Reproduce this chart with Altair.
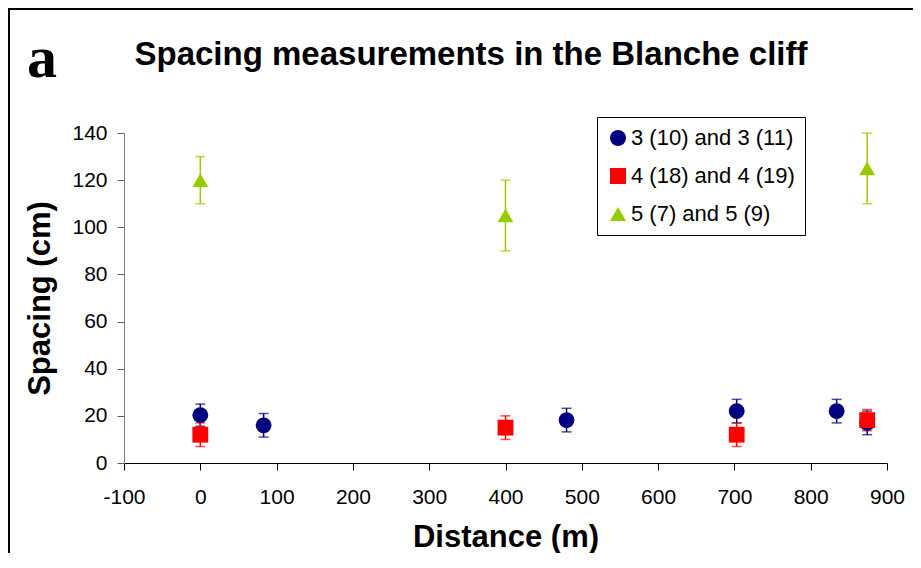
import altair as alt
import pandas as pd

# ---- data ----
series_names = ["3 (10) and 3 (11)", "4 (18) and 4 (19)", "5 (7) and 5 (9)"]
series_colors = ["#000080", "#FF0000", "#99CC00"]
series_shapes = ["circle", "square", "triangle-up"]

s1_x = [0, 83, 480, 703, 834, 874]
s1_y = [20.3, 16, 18.2, 22, 22, 17]
s1_err = [4.7, 5, 5, 5, 5, 5]

s2_x = [0, 400, 703, 874]
s2_y = [12, 15, 12, 18.2]
s2_err = [5, 5, 5, 4.5]

s3_x = [0, 400, 874]
s3_y = [120, 105, 125]
s3_err = [10, 15, 15]

title_text = "Spacing measurements in the Blanche cliff"
panel_letter = "a"

rows = []
for name, xs, ys, es in [
    (series_names[0], s1_x, s1_y, s1_err),
    (series_names[1], s2_x, s2_y, s2_err),
    (series_names[2], s3_x, s3_y, s3_err),
]:
    for x, y, e in zip(xs, ys, es):
        rows.append({"series": name, "distance": x, "spacing": y,
                     "lo": y - e, "hi": y + e})
df = pd.DataFrame(rows)

FONT = "Liberation Sans"

x_enc = alt.X("distance:Q", scale=alt.Scale(domain=[-100, 900], nice=False, zero=False),
              axis=alt.Axis(title="Distance (m)", values=list(range(-100, 901, 100)),
                            labelExpr="'' + datum.value",
                            grid=False, domainColor="black", tickColor="black",
                            tickSize=7, labelPadding=16, labelFontSize=21,
                            labelFont=FONT, labelColor="black",
                            titleFont=FONT, titleFontSize=31, titleFontWeight="bold",
                            titleColor="black", titleX=381.5, titleY=74,
                            titleBaseline="middle", titleAnchor="middle",
                            labelFlush=False, labelOverlap=False))
y_axis = alt.Axis(title="Spacing (cm)", values=list(range(0, 141, 20)),
                  grid=False, domainColor="#808080", tickColor="#606060",
                  tickSize=7, labelPadding=10, labelFontSize=21, labelFont=FONT,
                  labelColor="black", titleFont=FONT, titleFontSize=31,
                  titleFontWeight="bold", titleColor="black", titleX=-84,
                  titleY=165, titleBaseline="middle", titleAngle=-90,
                  titleAnchor="middle")
y_scale = alt.Scale(domain=[0, 140], nice=False, zero=False)

legend = alt.Legend(title=None, orient="none", legendX=473, legendY=-16,
                    strokeColor="black", fillColor="white", padding=10,
                    labelFont=FONT, labelFontSize=22, labelColor="black",
                    symbolSize=256, symbolStrokeWidth=0, symbolOpacity=1,
                    rowPadding=16, labelOffset=2, labelLimit=400)
color_enc = alt.Color("series:N", scale=alt.Scale(domain=series_names, range=series_colors),
                      legend=legend)
shape_enc = alt.Shape("series:N", scale=alt.Scale(domain=series_names, range=series_shapes),
                      legend=legend)

base = alt.Chart(df)

errbars = base.mark_errorbar(ticks=True, size=10, thickness=1.5).encode(
    x=x_enc,
    y=alt.Y("lo:Q", scale=y_scale, axis=y_axis),
    y2="hi:Q",
    color=color_enc,
)

points = base.mark_point(filled=True, size=250, opacity=1, strokeWidth=0).encode(
    x=x_enc,
    y=alt.Y("spacing:Q", scale=y_scale, axis=y_axis),
    color=color_enc,
    shape=shape_enc,
)

# outer frame: a single rectangle whose right and bottom edges fall outside the drawing
one = pd.DataFrame({"k": [0]})
frame = alt.Chart(one).mark_rect(fill="transparent", stroke="black", strokeWidth=2).encode(
    x=alt.value(-115), x2=alt.value(3000), y=alt.value(-124), y2=alt.value(3000))

letter = alt.Chart(pd.DataFrame({"t": [panel_letter]})).mark_text(
    font="Liberation Serif", fontWeight="bold", fontSize=60, align="left",
    baseline="alphabetic", color="black"
).encode(text="t:N", x=alt.value(-97), y=alt.value(-56))

title = alt.Chart(pd.DataFrame({"t": [title_text]})).mark_text(
    font=FONT, fontWeight="bold", fontSize=33, align="center",
    baseline="alphabetic", color="black"
).encode(text="t:N", x=alt.value(347), y=alt.value(-68))

chart = alt.layer(frame, errbars, points, letter, title).properties(
    width=763, height=330,
    autosize=alt.AutoSizeParams(type="none"),
    padding={"left": 116, "top": 125, "right": 26, "bottom": 90},
    background="transparent",
).configure_view(stroke=None)

chart.save("out.html", embed_options={"renderer": "svg", "actions": False})
